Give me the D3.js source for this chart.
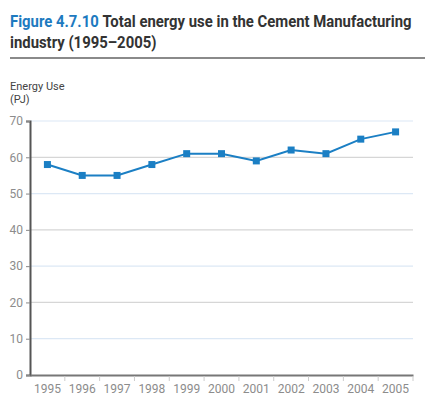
<!DOCTYPE html>
<html>
<head>
<meta charset="utf-8">
<script src="https://cdn.jsdelivr.net/npm/d3@7"></script>
<style>
  body { margin: 0; background: #fff; }
  text { font-family: Roboto, "Open Sans", sans-serif; }
</style>
</head>
<body>
<div id="chart"></div>
<script>
// years and energy use (PJ)
const years = ["1995","1996","1997","1998","1999","2000","2001","2002","2003","2004","2005"];
const energyUse = [58, 55, 55, 58, 61, 61, 59, 62, 61, 65, 67];
const yTicks = [0, 10, 20, 30, 40, 50, 60, 70];

const W = 432, H = 414;
const margin = {top: 121, right: 19, bottom: 39, left: 30};

const svg = d3.select("#chart").append("svg")
  .attr("width", W)
  .attr("height", H);

// title, squeezed horizontally to look like the condensed face of the original
const titleG = svg.append("g")
  .attr("transform", "translate(10,0) scale(0.875,1)");
const t1 = titleG.append("text")
  .attr("x", 0).attr("y", 27)
  .attr("font-size", 17).attr("font-weight", 700)
  .attr("fill", "#333");
t1.append("tspan").attr("fill", "#1d7ac0").text("Figure 4.7.10 ");
t1.append("tspan").text("Total energy use in the Cement Manufacturing");
titleG.append("text")
  .attr("x", 0).attr("y", 48)
  .attr("font-size", 17).attr("font-weight", 700)
  .attr("fill", "#333")
  .text("industry (1995\u20132005)");

svg.append("line")
  .attr("x1", 10).attr("x2", 425)
  .attr("y1", 58).attr("y2", 58)
  .attr("stroke", "#8a8a8a")
  .attr("stroke-width", 2);

// axis title
svg.append("text").attr("x", 10).attr("y", 90)
  .attr("font-size", 11).attr("fill", "#444").text("Energy Use");
svg.append("text").attr("x", 10).attr("y", 103)
  .attr("font-size", 11).attr("fill", "#444").text("(PJ)");

const x = d3.scaleBand()
  .domain(years)
  .range([margin.left, W - margin.right]);

const y = d3.scaleLinear()
  .domain([0, 70])
  .range([H - margin.bottom, margin.top]);

// gridlines
svg.append("g")
  .selectAll("line")
  .data(yTicks.filter(d => d > 0))
  .join("line")
  .attr("x1", margin.left)
  .attr("x2", W - margin.right)
  .attr("y1", d => y(d))
  .attr("y2", d => y(d))
  .attr("stroke", d => d % 20 === 0 ? "#d6d6d6" : "#dce8f5")
  .attr("stroke-width", 1.2);

// y axis
const yAxis = svg.append("g")
  .attr("transform", `translate(${margin.left},0)`)
  .call(d3.axisLeft(y).tickValues(yTicks).tickSize(4).tickPadding(3));
yAxis.select(".domain").attr("stroke", "#555").attr("stroke-width", 2);
yAxis.selectAll(".tick line").attr("stroke", "#888");
yAxis.selectAll(".tick text")
  .attr("font-size", 12)
  .attr("fill", "#8c8c8c")
  .style("font-family", "Roboto, sans-serif");

// x axis
const xAxis = svg.append("g")
  .attr("transform", `translate(0,${H - margin.bottom})`)
  .call(d3.axisBottom(x).tickSize(0).tickPadding(9));
xAxis.select(".domain").attr("stroke", "#777").attr("stroke-width", 2);
xAxis.selectAll(".tick text")
  .attr("font-size", 12)
  .attr("fill", "#8c8c8c")
  .style("font-family", "Roboto, sans-serif");
// boundary ticks between years
xAxis.append("g")
  .selectAll("line")
  .data(years)
  .join("line")
  .attr("x1", (d, i) => x(years[0]) + x.step() * (i + 1))
  .attr("x2", (d, i) => x(years[0]) + x.step() * (i + 1))
  .attr("y1", 1)
  .attr("y2", 6)
  .attr("stroke", "#ccc");

// line + markers
const pts = years.map((yr, i) => ({yr, v: energyUse[i]}));
const line = d3.line()
  .x(d => x(d.yr) + x.bandwidth() / 2)
  .y(d => y(d.v));

svg.append("path")
  .datum(pts)
  .attr("d", line)
  .attr("fill", "none")
  .attr("stroke", "#1b7fc4")
  .attr("stroke-width", 2);

svg.append("g")
  .selectAll("rect")
  .data(pts)
  .join("rect")
  .attr("x", d => x(d.yr) + x.bandwidth() / 2 - 3.5)
  .attr("y", d => y(d.v) - 3.5)
  .attr("width", 7)
  .attr("height", 7)
  .attr("fill", "#1b7fc4");
</script>
</body>
</html>
